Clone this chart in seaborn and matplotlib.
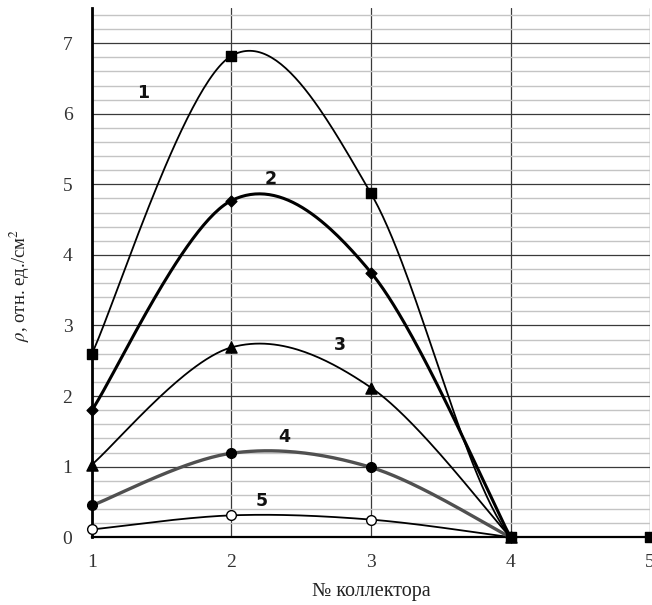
import numpy as np
import pandas as pd
import seaborn as sns
import matplotlib.pyplot as plt
from matplotlib.ticker import MultipleLocator

collectors = [1, 2, 3, 4, 5]
series_1 = [2.60, 6.82, 4.87, 0.0, 0.0]
series_2 = [1.80, 4.77, 3.75, 0.0]
series_3 = [1.03, 2.69, 2.12, 0.0]
series_4 = [0.45, 1.19, 0.99, 0.0]
series_5 = [0.11, 0.31, 0.25, 0.0]
series_names = ["1", "2", "3", "4", "5"]


def excel_smooth(xs, ys, n=60):
    """Bezier smoothing like the spreadsheet 'smoothed line' option."""
    xs = np.asarray(xs, float)
    ys = np.asarray(ys, float)
    px = np.concatenate([[xs[0]], xs, [xs[-1]]])
    py = np.concatenate([[ys[0]], ys, [ys[-1]]])
    out_x, out_y = [], []
    t = np.linspace(0, 1, n)
    for i in range(1, len(px) - 2):
        x0, y0 = px[i], py[i]
        x3, y3 = px[i + 1], py[i + 1]
        x1 = x0 + (px[i + 1] - px[i - 1]) / 6
        y1 = y0 + (py[i + 1] - py[i - 1]) / 6
        x2 = x3 - (px[i + 2] - px[i]) / 6
        y2 = y3 - (py[i + 2] - py[i]) / 6
        b0, b1, b2, b3 = (1 - t) ** 3, 3 * (1 - t) ** 2 * t, 3 * (1 - t) * t ** 2, t ** 3
        out_x.extend(b0 * x0 + b1 * x1 + b2 * x2 + b3 * x3)
        out_y.extend(b0 * y0 + b1 * y1 + b2 * y2 + b3 * y3)
    return np.array(out_x), np.array(out_y)


all_series = [series_1, series_2, series_3, series_4, series_5]
styles = {
    "1": dict(marker="s", color="black", lw=1.3, ms=7.5, mfc="black"),
    "2": dict(marker="D", color="black", lw=2.2, ms=5.5, mfc="black"),
    "3": dict(marker="^", color="black", lw=1.3, ms=8, mfc="black"),
    "4": dict(marker="o", color="#505050", lw=2.4, ms=7, mfc="black"),
    "5": dict(marker="o", color="black", lw=1.3, ms=7, mfc="white"),
}

sns.set_style("white")
plt.rcParams["font.family"] = ["Liberation Serif", "DejaVu Serif"]
plt.rcParams["mathtext.fontset"] = "stix"

fig = plt.figure(figsize=(6.52, 6.05), dpi=100)
ax = fig.add_axes([0.141, 0.112, 0.856, 0.875])

# grid
ax.yaxis.set_minor_locator(MultipleLocator(0.2))
ax.yaxis.set_major_locator(MultipleLocator(1))
ax.xaxis.set_major_locator(MultipleLocator(1))
ax.grid(which="minor", axis="y", color="#c4c4c4", lw=1.0)
ax.grid(which="major", axis="y", color="#3a3a3a", lw=0.9)
ax.grid(which="major", axis="x", color="#3a3a3a", lw=0.9)
ax.set_axisbelow(True)

for k, (name, ys) in enumerate(zip(series_names, all_series)):
    st = styles[name]
    xs = collectors[:len(ys)]
    sx, sy = excel_smooth(xs, ys)
    sns.lineplot(x=sx, y=sy, ax=ax, color=st["color"], lw=st["lw"],
                 sort=False, estimator=None, zorder=3 + (5 - k) * 0.1)
    pts = pd.DataFrame({"x": xs, "y": ys})
    sns.scatterplot(data=pts, x="x", y="y", ax=ax, marker=st["marker"],
                    s=st["ms"] ** 2, color=st["mfc"], edgecolor="black",
                    linewidth=1.0, zorder=5 + (5 - k) * 0.1, clip_on=False)

# curve labels
label_pos = {"1": (1.37, 6.29), "2": (2.28, 5.08), "3": (2.78, 2.72),
             "4": (2.38, 1.42), "5": (2.22, 0.51)}
for name in series_names:
    lx, ly = label_pos[name]
    ax.text(lx, ly, name, fontsize=12.5, fontweight="bold", ha="center",
            va="center", family=["DejaVu Sans"], color="#111111")

ax.set_xlim(1, 5)
ax.set_ylim(0, 7.5)
ax.set_xticks(collectors)
ax.set_yticks(range(0, 8))
ax.tick_params(axis="both", which="both", length=0, labelsize=14, colors="#333333")
ax.tick_params(axis="x", pad=12)
ax.tick_params(axis="y", pad=14)

for side in ["top", "right"]:
    ax.spines[side].set_visible(False)
ax.spines["left"].set_color("black")
ax.spines["left"].set_linewidth(2.0)
ax.spines["bottom"].set_color("black")
ax.spines["bottom"].set_linewidth(1.6)

ax.set_xlabel("№ коллектора", fontsize=14.5, color="#222222")
ax.set_ylabel(r"$\rho$, отн. ед./см$^2$", fontsize=13.5, color="#222222")
ax.xaxis.set_label_coords(0.5, -0.085)
ax.yaxis.set_label_coords(-0.108, 0.476)

fig.savefig("out.png", dpi=100)
